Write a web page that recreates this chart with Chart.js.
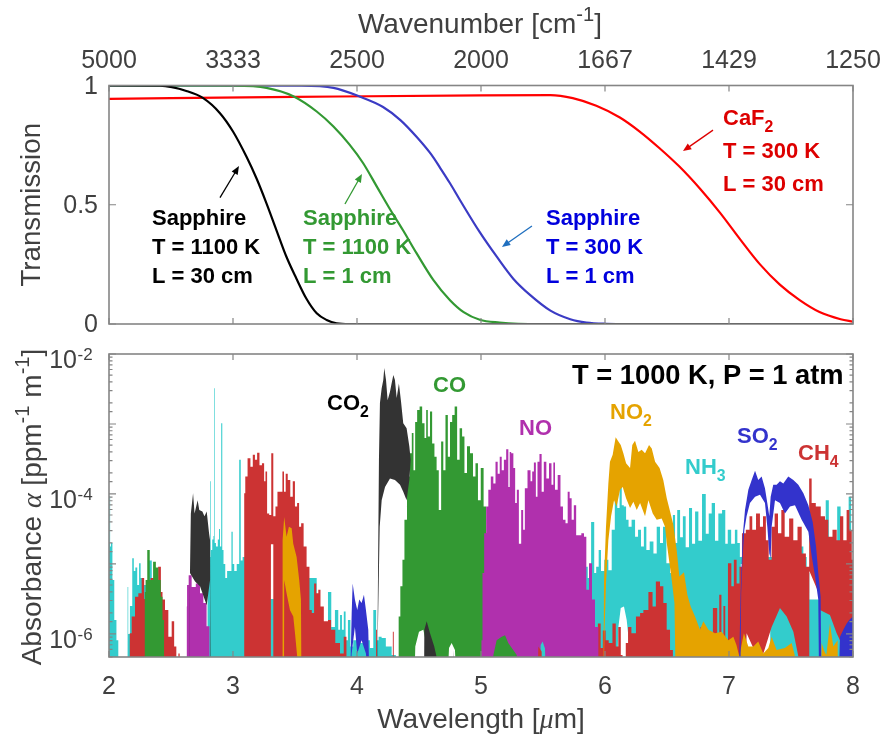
<!DOCTYPE html>
<html>
<head>
<meta charset="utf-8">
<title>Transmission and absorbance spectra</title>
<script src="https://cdn.jsdelivr.net/npm/chart.js@4"></script>
<style>
  html, body { margin: 0; background: #fff; }
  canvas { position: absolute; left: 0; filter: blur(0.4px); }
  #transmission { top: 0; }
  #absorbance { top: 340px; }
</style>
</head>
<body>
<canvas id="transmission" width="883" height="340"></canvas>
<canvas id="absorbance" width="883" height="396"></canvas>
<script>
// tick labels
const wavenumberTicks = ['5000', '3333', '2500', '2000', '1667', '1429', '1250'];

// window transmission curves, wavelength [um] / transmission
const blackWave = [2, 2.41, 2.63, 2.76, 2.895, 3, 3.11, 3.19, 3.27, 3.35, 3.43, 3.51, 3.59, 3.675, 3.755, 3.835, 3.94, 8];
const blackT = [1, 0.999, 0.976, 0.947, 0.884, 0.807, 0.7, 0.61, 0.506, 0.394, 0.283, 0.192, 0.108, 0.045, 0.017, 0.003, 0, 0];
const greenWave = [2, 3, 3.27, 3.49, 3.675, 3.81, 3.94, 4.05, 4.16, 4.27, 4.37, 4.48, 4.615, 4.75, 4.86, 4.99, 5.15, 5.3, 5.5, 8];
const greenT = [1, 0.999, 0.99, 0.954, 0.891, 0.828, 0.752, 0.674, 0.576, 0.478, 0.394, 0.297, 0.185, 0.1, 0.05, 0.018, 0.006, 0.001, 0, 0];
const blueWave = [2, 3.54, 3.81, 4.02, 4.21, 4.35, 4.48, 4.6, 4.67, 4.75, 4.83, 4.99, 5.13, 5.26, 5.395, 5.56, 5.72, 5.85, 6.01, 6.2, 8];
const blueT = [1, 0.999, 0.99, 0.954, 0.91, 0.855, 0.785, 0.71, 0.655, 0.59, 0.52, 0.385, 0.28, 0.19, 0.122, 0.056, 0.02, 0.006, 0.001, 0, 0];
const redWave = [2, 3.5, 5, 5.56, 5.74, 5.93, 6.12, 6.28, 6.44, 6.6, 6.77, 6.93, 7.09, 7.25, 7.41, 7.57, 7.73, 7.9, 8];
const redT = [0.944, 0.952, 0.959, 0.96, 0.947, 0.915, 0.866, 0.807, 0.737, 0.66, 0.565, 0.465, 0.355, 0.25, 0.165, 0.1, 0.05, 0.02, 0.01];

// absorbance, wavelength [um] / log10 of alpha. -7 sits under the axis floor
const nh3Wave = [2, 2.006, 2.012, 2.02, 2.035, 2.05, 2.07, 2.08, 2.085, 2.148, 2.152, 2.158, 2.18, 2.195, 2.205, 2.22, 2.235, 2.25, 2.26, 2.3, 2.33, 2.36, 2.39, 2.42, 2.79,
  2.8, 2.815, 2.82, 2.825, 2.84, 2.845, 2.85, 2.855, 2.87, 2.885, 2.89, 2.9, 2.91, 2.917, 2.93, 2.945, 2.96, 2.98, 2.995, 3, 3.02, 3.04, 3.06, 3.065, 3.09, 3.11, 3.6, 3.75,
  3.782, 3.803, 3.841, 3.857, 3.87, 3.887, 3.9, 3.916, 3.938, 3.956, 3.983, 4.01, 4.037, 4.09, 4.118, 4.145, 4.163, 4.185, 4.212, 4.253, 4.306, 4.32, 5.84,
  5.852, 5.87, 5.906, 5.92, 5.938, 5.96, 5.975, 6.014, 6.04, 6.068, 6.09, 6.108, 6.127, 6.143, 6.16, 6.18, 6.2, 6.229, 6.256, 6.277, 6.304, 6.323, 6.344, 6.377, 6.404, 6.43, 6.457, 6.479, 6.511, 6.538,
  6.557, 6.573, 6.592, 6.619, 6.637, 6.664, 6.691, 6.713, 6.74, 6.766, 6.799, 6.826, 6.847, 6.874, 6.9, 6.928, 6.96, 6.98, 7, 7.035, 7.06, 7.075, 7.1, 7.4, 7.586, 7.613, 7.64, 7.655, 7.72, 7.73, 7.76, 7.8, 7.81, 7.85, 7.895, 7.905, 7.95, 7.98, 7.99, 8];
const nh3Log = [-4.7, -4.03, -4.75, -4.7, -5.23, -5.8, -6.09, -6.33, -7, -7, -5.33, -6, -5.6, -4.92, -5.1, -5.05, -5.3, -4.99, -5.2, -5.3, -4.95, -5.25, -5.6, -7, -7,
  -5.2, -4.9, -3.82, -4.8, -4.65, -4.6, -2.49, -4.7, -4.75, -4.65, -4.5, -4.75, -2.99, -4.8, -5, -5.2, -5.1, -5.1, -4.54, -5, -5.1, -5, -3.51, -4.95, -4.9, -5.5, -5.2, -6.5,
  -5.4, -5.9, -5.66, -5.94, -5.73, -5.94, -5.68, -6.09, -5.8, -6.18, -6.09, -5.94, -6.13, -6.09, -6.2, -5.66, -6.09, -6.04, -6.06, -6.18, -6.3, -7, -7,
  -5.04, -5.2, -4.4, -5.13, -5.04, -4.8, -5.1, -4.94, -5.09, -4.51, -4.09, -4.2, -3.9, -4.16, -4.18, -4.37, -4.47, -4.37, -4.61, -4.51, -4.75, -4.47, -4.8, -4.68, -4.85, -4.47, -4.7, -4.47, -4.99, -5.13,
  -4.3, -4.7, -4.23, -4.62, -4.32, -4.76, -4.2, -4.71, -4.25, -4.67, -4, -4.57, -4.28, -4.13, -4.67, -4.28, -4.23, -4.71, -4.51, -4.71, -4.51, -4.7, -4.9, -4.9, -4.75, -4.9, -5.13, -5.51, -5.51, -5, -5, -4.09, -5, -5, -4.18, -5, -5, -4.04, -5, -5.04];
const nh3LowWave = [2, 6.09, 6.108, 6.127, 6.153, 6.175, 6.197, 6.2, 7.09, 7.095, 7.33, 7.335, 8];
const nh3LowLog = [-7, -7, -5.9, -5.63, -5.61, -5.8, -6.18, -7, -7, -5, -5, -7, -7];

const ch4Wave = [2.1, 2.165, 2.17, 2.196, 2.223, 2.25, 2.277, 2.29, 2.32, 2.35, 2.38, 2.412, 2.425, 2.438, 2.465, 2.492, 2.519, 2.532, 2.554, 2.565, 2.575, 3.087,
  3.094, 3.104, 3.131, 3.15, 3.169, 3.185, 3.204, 3.223, 3.244, 3.258, 3.266, 3.284, 3.3, 3.317, 3.333, 3.352, 3.365, 3.392, 3.405, 3.418, 3.432, 3.451, 3.473, 3.491, 3.508, 3.526, 3.54, 3.559, 3.58, 3.607, 3.626, 3.645, 3.663, 3.68, 3.696, 3.715, 3.75, 3.782, 3.8, 3.85, 3.876, 3.91, 3.92, 4.15,
  4.158, 4.165, 4.285, 4.293, 4.3, 5.93, 5.955, 5.975, 5.99, 6.02, 6.04, 6.08, 6.094, 6.12, 6.135, 6.148, 6.16, 6.175, 6.197, 6.229, 6.27, 6.296, 6.323, 6.377, 6.39, 6.43, 6.457, 6.484, 6.511, 6.538, 6.557, 6.76,
  6.78, 6.79, 6.83, 6.84, 6.9, 6.91, 6.933, 6.945, 6.965, 6.975, 7.008, 7.03, 7.048, 7.075, 7.094, 7.115, 7.156, 7.175, 7.2, 7.236, 7.263, 7.285, 7.31, 7.33, 7.357, 7.379, 7.411, 7.433, 7.465, 7.505, 7.532, 7.573, 7.6, 7.64, 7.653, 7.68, 7.72, 7.76, 7.788, 7.814, 7.855, 7.882, 7.908, 7.935, 7.962, 7.98, 8];
const ch4Log = [-7, -7, -5.99, -5.75, -5.47, -5.42, -5.2, -5.5, -5.3, -5.2, -5.3, -5.04, -5.4, -5.51, -5.66, -6.04, -5.82, -6.18, -6.33, -6.28, -7, -7,
  -3.99, -3.75, -3.49, -3.61, -3.44, -3.51, -3.41, -3.59, -3.56, -3.82, -3.68, -4.28, -4.3, -3.42, -4.32, -4.18, -3.97, -3.97, -3.68, -3.97, -3.71, -3.8, -4.04, -3.82, -4.18, -4.13, -4.47, -4.42, -4.75, -5.04, -5.66, -5.7, -5.28, -5.42, -5.37, -5.61, -5.82, -5.8, -5.94, -6.13, -6.28, -6.04, -7, -7,
  -5.94, -7, -7, -5.97, -7, -6.3, -5.85, -6.2, -5.95, -6.09, -6.13, -5.85, -6.18, -5.9, -6.3, -7, -7, -6.13, -5.9, -5.99, -5.75, -5.7, -5.66, -5.4, -5.61, -5.25, -5.32, -5.56, -5.94, -6.23, -7, -7,
  -5.9, -6.5, -5.95, -6.5, -5.63, -6.3, -5.44, -6.2, -5.6, -6.1, -4.99, -5.32, -4.94, -5.28, -5.04, -4.56, -4.51, -4.32, -4.51, -4.28, -4.47, -4.32, -4.66, -4.94, -4.47, -4.28, -4.56, -4.23, -4.61, -4.35, -4.66, -4.47, -4.85, -5.04, -3.78, -4.13, -4.18, -4.32, -4.37, -4.61, -4.51, -4.66, -4.32, -4.66, -4.23, -4.51, -4.94];
const ch4LowWave = [2.1, 3.305, 3.306, 3.325, 3.326, 7.13, 7.142, 7.196, 7.277, 7.344, 7.411, 7.465, 7.519, 7.559, 7.56, 7.647, 7.648, 7.72, 7.734, 7.814, 7.868, 7.895, 8];
const ch4LowLog = [-7, -7, -4.72, -4.72, -7, -7, -5.99, -6.2, -6.28, -5.9, -5.63, -5.75, -5.97, -6.32, -7, -7, -5.1, -5.4, -5.66, -5.73, -5.99, -6.09, -6.2];

const coWave = [2.285, 2.29, 2.3, 2.317, 2.34, 2.371, 2.385, 2.41, 2.425, 2.438, 2.45, 2.455, 4.333,
  4.339, 4.36, 4.373, 4.392, 4.414, 4.435, 4.449, 4.462, 4.476, 4.494, 4.516, 4.535, 4.554, 4.562, 4.58, 4.597, 4.615, 4.634, 4.65, 4.669, 4.688, 4.704, 4.723, 4.742, 4.758, 4.777, 4.798, 4.817, 4.838, 4.857, 4.876, 4.898, 4.925, 4.946, 4.965, 4.986, 5.01, 5.032, 5.05, 5.055];
const coLog = [-7, -5.4, -5.23, -4.8, -5.23, -4.97, -5.05, -5.23, -5.47, -5.8, -6.33, -7, -7,
  -5.75, -5.32, -4.94, -4.37, -3.75, -3.42, -3.13, -3.66, -2.97, -2.8, -2.75, -2.99, -3.2, -2.8, -3.18, -2.82, -3.28, -3.47, -3.66, -4.23, -3.25, -3.66, -2.87, -3.47, -2.97, -2.87, -2.75, -3.51, -3.06, -3.18, -3.7, -3.32, -3.42, -3.75, -3.56, -4.09, -3.63, -4.18, -4.56, -7];
const coLowWave = [2.28, 4.46, 4.47, 4.5, 4.535, 4.575, 4.6, 4.723, 4.742, 4.763, 4.79, 4.81, 5.06];
const coLowLog = [-7, -7, -6.18, -5.97, -5.94, -6.28, -7, -7, -6.2, -6.13, -6.23, -7, -7];

const noWave = [2.625, 2.627, 2.632, 2.653, 2.68, 2.72, 2.748, 2.774, 2.8, 2.82, 2.825, 5.002,
  5.005, 5.019, 5.032, 5.051, 5.067, 5.091, 5.108, 5.126, 5.143, 5.159, 5.175, 5.194, 5.212, 5.229, 5.234, 5.253, 5.269, 5.282, 5.296, 5.315, 5.333, 5.347, 5.36, 5.39, 5.409, 5.417, 5.436, 5.449, 5.462, 5.481, 5.497, 5.516, 5.538, 5.559, 5.578, 5.589, 5.605, 5.632, 5.65, 5.672, 5.691, 5.707, 5.723, 5.739, 5.758, 5.777, 5.798, 5.82, 5.841, 5.858, 5.884, 5.906, 5.933, 5.96, 5.965];
const noLog = [-7, -5.61, -5.3, -5.16, -5.33, -5.28, -5.42, -5.56, -5.89, -6.33, -7, -7,
  -6.09, -5.13, -4.56, -4.18, -3.94, -3.75, -3.85, -3.54, -3.71, -3.47, -3.66, -3.51, -3.36, -3.9, -3.4, -3.42, -3.63, -4.13, -3.94, -4.71, -4.23, -4.51, -3.92, -3.66, -3.82, -3.68, -3.55, -4.04, -3.54, -3.43, -3.97, -3.54, -3.78, -3.56, -3.87, -3.55, -3.94, -3.73, -4.18, -4.37, -4.42, -3.97, -4.06, -4.37, -4.16, -4.59, -4.59, -4.56, -4.61, -5.37, -4.99, -5.51, -5.9, -6.33, -7];

// small bands that show in front of the NO band
const coPatchWave = [5.095, 5.1, 5.126, 5.167, 5.194, 5.22, 5.26, 5.288, 5.292];
const coPatchLog = [-7, -6.3, -6.09, -6.04, -6.02, -6.13, -6.23, -6.3, -7];
const nh3PatchWave = [5.47, 5.481, 5.497, 5.516, 5.53];
const nh3PatchLog = [-7, -6.16, -6.11, -6.21, -7];
const ch4PatchWave = [5.455, 5.462, 5.489, 5.495];
const ch4PatchLog = [-7, -6.18, -6.25, -7];

const co2Wave = [2.65, 2.653, 2.66, 2.678, 2.69, 2.715, 2.728, 2.753, 2.77, 2.788, 2.807, 2.815, 2.82, 4.16,
  4.164, 4.177, 4.185, 4.199, 4.212, 4.22, 4.234, 4.247, 4.266, 4.279, 4.293, 4.306, 4.32, 4.338, 4.355, 4.373, 4.4, 4.422, 4.433, 4.437, 4.54,
  4.543, 4.562, 4.589, 4.623, 4.642, 4.645, 4.77, 4.777, 4.785];
const co2Log = [-7, -5.13, -4.28, -3.99, -4.28, -4.09, -4.23, -4.25, -4.32, -4.25, -4.56, -4.66, -7, -7,
  -6.33, -3.51, -2.7, -2.49, -2.37, -2.2, -2.37, -2.66, -2.54, -2.42, -2.3, -2.37, -2.63, -2.42, -2.68, -2.99, -3.06, -3.32, -3.51, -7, -7,
  -5.94, -5.82, -5.99, -6.18, -6.33, -7, -7, -6.23, -7];
const co2LowWave = [2.64, 2.653, 2.694, 2.734, 2.788, 2.815, 2.82, 4.16, 4.164, 4.168, 4.183, 4.199, 4.226, 4.266, 4.306, 4.347, 4.373, 4.4, 4.422, 4.433, 4.437, 4.79];
const co2LowLog = [-7, -5.13, -5.25, -5.32, -5.59, -5.23, -7, -7, -7, -6, -4.47, -4.09, -3.9, -3.78, -3.8, -3.87, -3.97, -4.09, -3.8, -3.51, -7, -7];

const no2Wave = [3.39, 3.397, 3.4, 3.413, 3.432, 3.451, 3.473, 3.486, 3.513, 3.534, 3.548, 3.553, 5.98,
  5.987, 5.992, 6.008, 6.027, 6.04, 6.062, 6.086, 6.108, 6.127, 6.148, 6.17, 6.202, 6.22, 6.242, 6.269, 6.296, 6.323, 6.355, 6.377, 6.404, 6.44, 6.47, 6.498, 6.525, 6.551, 6.578, 6.6, 6.637, 6.664, 6.691, 6.726, 6.766, 6.793, 6.834, 6.887, 6.94, 6.995, 7.035, 7.06, 7.083, 7.12, 7.156, 7.196, 7.236, 7.277, 7.317, 7.344, 7.384, 7.45, 7.505, 7.53, 7.535, 7.74,
  7.747, 7.77, 7.785, 7.814, 7.841, 7.876, 7.88];
const no2Log = [-7, -7, -4.66, -4.33, -4.61, -4.47, -4.49, -4.71, -4.9, -5.23, -5.51, -7, -7,
  -7, -5.23, -4.47, -3.85, -3.54, -3.44, -3.19, -3.25, -3.3, -3.42, -3.56, -3.63, -3.3, -3.24, -3.4, -3.37, -3.42, -3.3, -3.35, -3.54, -3.63, -3.8, -4.06, -4.25, -4.44, -4.8, -5.18, -5.12, -5.44, -5.61, -5.75, -5.94, -5.82, -5.94, -5.99, -5.97, -6.09, -6.04, -6.16, -6.32, -5.99, -6.18, -6.18, -6.11, -6.28, -6.2, -6.04, -6.23, -6.2, -6.13, -6.3, -7, -7,
  -6.13, -6.25, -6.3, -5.85, -6.18, -6.09, -7];
const no2LowWave = [3.39, 3.411, 3.413, 3.432, 3.459, 3.486, 3.5, 3.518, 3.52, 5.987, 5.995, 6.008, 6.027, 6.049, 6.073, 6.094, 6.121, 6.143, 6.17, 6.202, 6.229, 6.256, 6.283, 6.323, 6.35, 6.385, 6.417, 6.457, 6.484, 6.498, 6.52, 6.538, 6.56, 6.573, 7.9];
const no2LowLog = [-7, -7, -5.23, -5.42, -5.66, -5.75, -5.99, -6.33, -7, -7, -6.04, -5.28, -4.66, -4.32, -4.09, -4.18, -3.94, -3.9, -4.06, -4.2, -4.11, -4.23, -4.13, -4.32, -4.09, -4.28, -4.37, -4.35, -4.47, -4.7, -4.99, -5.23, -5.56, -7, -7];

const so2Wave = [3.94, 3.943, 3.957, 3.965, 3.983, 4.002, 4.018, 4.037, 4.056, 4.072, 4.091, 4.104, 7.075,
  7.08, 7.094, 7.11, 7.129, 7.156, 7.183, 7.21, 7.236, 7.263, 7.29, 7.309, 7.325, 7.336, 7.357, 7.384, 7.411, 7.438, 7.478, 7.519, 7.559, 7.6, 7.64, 7.675, 7.702, 7.72, 7.739, 7.747, 7.88,
  7.882, 7.895, 7.922, 7.949, 7.97, 8];
const so2Log = [-7, -7, -5.71, -5.28, -5.51, -5.66, -5.51, -5.56, -5.44, -5.66, -5.94, -7, -7,
  -7, -5.42, -4.61, -4.23, -3.94, -3.8, -3.67, -3.8, -3.75, -3.92, -4.13, -4.32, -4.04, -3.87, -3.87, -3.82, -3.85, -3.75, -3.8, -3.87, -3.99, -4.16, -4.4, -4.75, -5.13, -5.47, -7, -7,
  -7, -6.04, -5.94, -5.85, -5.8, -5.75];
const so2LowWave = [3.94, 3.957, 3.983, 4.002, 4.037, 4.072, 4.104, 7.09, 7.098, 7.11, 7.124, 7.142, 7.169, 7.21, 7.25, 7.29, 7.309, 7.325, 7.336, 7.344, 7.371, 7.411, 7.451, 7.492, 7.532, 7.586, 7.64, 7.667, 7.694, 7.72, 7.728, 8];
const so2LowLog = [-7, -6.28, -5.9, -6.28, -6.09, -6.28, -7, -7, -5.42, -4.89, -4.51, -4.32, -4.13, -4.04, -4.01, -4.13, -4.47, -4.85, -4.92, -4.47, -4.09, -4.13, -4.28, -4.18, -4.16, -4.37, -4.54, -4.89, -5.18, -5.51, -7, -7];

const AXIS_GREY = '#404040';
const BOX_GREY = '#858585';
const SANS = '"Liberation Sans", Arial, sans-serif';
const SERIF = '"Liberation Serif", serif';

const curve = (wave, vals) => wave.map((w, i) => ({ x: w, y: vals[i] }));
const band = (wave, logs) => wave.map((w, i) => ({ x: w, y: Math.pow(10, logs[i]) }));

// text with raised / lowered / italic pieces
function drawRich(ctx, parts, x, y, size, color, opts) {
  opts = opts || {};
  const weight = opts.bold ? 'bold ' : '';
  const fontFor = p => {
    const s = p.sup || p.sub ? size * 0.72 : size;
    return (p.italic ? 'italic ' : weight) + s + 'px ' + (p.italic ? SERIF : SANS);
  };
  ctx.save();
  ctx.fillStyle = color;
  ctx.textBaseline = 'alphabetic';
  ctx.textAlign = 'left';
  let total = 0;
  parts.forEach(p => { ctx.font = fontFor(p); total += ctx.measureText(p.t).width; });
  ctx.translate(x, y);
  if (opts.rotate) ctx.rotate(-Math.PI / 2);
  let cx = opts.center ? -total / 2 : 0;
  parts.forEach(p => {
    ctx.font = fontFor(p);
    const dy = p.sup ? -size * 0.42 : p.sub ? size * 0.3 : 0;
    ctx.fillText(p.t, cx, dy);
    cx += ctx.measureText(p.t).width;
  });
  ctx.restore();
}

function drawBox(chart) {
  const { ctx, chartArea: a } = chart;
  ctx.save();
  ctx.strokeStyle = BOX_GREY;
  ctx.lineWidth = 1.6;
  ctx.strokeRect(a.left, a.top, a.right - a.left, a.bottom - a.top);
  ctx.restore();
}

// inward ticks on all four sides
function drawTicks(chart, xScale, yScale, isMajor) {
  const { ctx, chartArea: a } = chart;
  ctx.save();
  ctx.strokeStyle = BOX_GREY;
  ctx.lineWidth = 1.2;
  ctx.beginPath();
  xScale.ticks.forEach(t => {
    const px = xScale.getPixelForValue(t.value);
    ctx.moveTo(px, a.top); ctx.lineTo(px, a.top + 6);
    ctx.moveTo(px, a.bottom); ctx.lineTo(px, a.bottom - 6);
  });
  yScale.ticks.forEach(t => {
    const py = yScale.getPixelForValue(t.value);
    const len = isMajor(t.value) ? 7 : 3.5;
    ctx.moveTo(a.left, py); ctx.lineTo(a.left + len, py);
    ctx.moveTo(a.right, py); ctx.lineTo(a.right - len, py);
  });
  ctx.stroke();
  ctx.restore();
}

// the axis boxes are fixed, so drop what chart.js reserves for tick label overhang
function fixBox(s, prop, size) {
  s[prop] = size;
  s.paddingLeft = s.paddingRight = s.paddingTop = s.paddingBottom = 0;
}

// ---- top panel ----
const windowLabels = [
  { color: '#000000', x: 152, y: 225, lines: [[{ t: 'Sapphire' }], [{ t: 'T = 1100 K' }], [{ t: 'L = 30 cm' }]], gap: 29 },
  { color: '#339933', x: 303, y: 225, lines: [[{ t: 'Sapphire' }], [{ t: 'T = 1100 K' }], [{ t: 'L = 1 cm' }]], gap: 29 },
  { color: '#0000DD', x: 546, y: 225, lines: [[{ t: 'Sapphire' }], [{ t: 'T = 300 K' }], [{ t: 'L = 1 cm' }]], gap: 29 },
  { color: '#DD0000', x: 723, y: 125, lines: [[{ t: 'CaF' }, { t: '2', sub: true }], [{ t: 'T = 300 K' }], [{ t: 'L = 30 cm' }]], gap: 33 }
];
const windowArrows = [
  { color: '#000000', from: [2.895, 0.53], to: [3.048, 0.662] },
  { color: '#339933', from: [3.903, 0.503], to: [4.04, 0.629] },
  { color: '#1F6FBF', from: [5.411, 0.411], to: [5.169, 0.323] },
  { color: '#DD0000', from: [6.871, 0.813], to: [6.629, 0.725] }
];

const topPanel = {
  id: 'topPanel',
  afterDatasetsDraw(chart) {
    const { ctx, scales } = chart;
    drawBox(chart);
    drawTicks(chart, scales.x, scales.y, () => true);
    windowArrows.forEach(a => {
      const x0 = scales.x.getPixelForValue(a.from[0]), y0 = scales.y.getPixelForValue(a.from[1]);
      const x1 = scales.x.getPixelForValue(a.to[0]), y1 = scales.y.getPixelForValue(a.to[1]);
      const ang = Math.atan2(y1 - y0, x1 - x0);
      ctx.save();
      ctx.strokeStyle = ctx.fillStyle = a.color;
      ctx.lineWidth = 1.3;
      ctx.beginPath(); ctx.moveTo(x0, y0); ctx.lineTo(x1 - 6 * Math.cos(ang), y1 - 6 * Math.sin(ang)); ctx.stroke();
      ctx.beginPath();
      ctx.moveTo(x1, y1);
      ctx.lineTo(x1 - 9 * Math.cos(ang - 0.4), y1 - 9 * Math.sin(ang - 0.4));
      ctx.lineTo(x1 - 9 * Math.cos(ang + 0.4), y1 - 9 * Math.sin(ang + 0.4));
      ctx.closePath(); ctx.fill();
      ctx.restore();
    });
    windowLabels.forEach(l => {
      l.lines.forEach((parts, i) => drawRich(ctx, parts, l.x, l.y + i * l.gap, 22, l.color, { bold: true }));
    });
    drawRich(ctx, [{ t: 'Wavenumber [cm' }, { t: '-1', sup: true }, { t: ']' }], 480, 33, 28, AXIS_GREY, { center: true });
  }
};

new Chart(document.getElementById('transmission'), {
  type: 'line',
  data: {
    datasets: [
      { data: curve(blackWave, blackT), borderColor: '#000000' },
      { data: curve(greenWave, greenT), borderColor: '#339933' },
      { data: curve(blueWave, blueT), borderColor: '#3B3BC4' },
      { data: curve(redWave, redT), borderColor: '#FF0000' }
    ]
  },
  options: {
    responsive: false,
    animation: false,
    layout: { padding: { right: 30, bottom: 16 } },
    plugins: { legend: { display: false }, tooltip: { enabled: false } },
    elements: { point: { radius: 0 }, line: { borderWidth: 2.2, cubicInterpolationMode: 'monotone' } },
    scales: {
      x: {
        type: 'linear', position: 'top', min: 2, max: 8,
        grid: { display: false, drawTicks: false }, border: { display: false },
        afterFit: s => fixBox(s, 'height', 85.5),
        ticks: {
          stepSize: 1, maxRotation: 0, padding: 9, color: AXIS_GREY, font: { family: SANS, size: 25 },
          callback: v => wavenumberTicks[v - 2]
        }
      },
      y: {
        min: 0, max: 1,
        grid: { display: false, drawTicks: false }, border: { display: false },
        afterFit: s => fixBox(s, 'width', 109),
        title: { display: true, text: 'Transmission', color: AXIS_GREY, font: { family: SANS, size: 27.7 }, padding: { top: 16, bottom: 0 } },
        ticks: {
          stepSize: 0.5, padding: 11, labelOffset: 1.5, color: AXIS_GREY, font: { family: SANS, size: 25 },
          callback: v => String(v)
        }
      }
    }
  },
  plugins: [topPanel]
});

// ---- bottom panel ----
// bottom to top; later layers paint over earlier ones
// bars: draw as a histogram of lines, the others as a plain envelope
const layers = [
  { color: '#33CCCC', bars: true, wave: nh3Wave, logs: nh3Log, lowWave: nh3LowWave, lowLogs: nh3LowLog },
  { color: '#CC3333', bars: true, wave: ch4Wave, logs: ch4Log, lowWave: ch4LowWave, lowLogs: ch4LowLog },
  { color: '#339933', bars: true, wave: coWave, logs: coLog, lowWave: coLowWave, lowLogs: coLowLog },
  { color: '#B030AD', bars: true, wave: noWave, logs: noLog },
  { color: '#339933', wave: coPatchWave, logs: coPatchLog },
  { color: '#33CCCC', wave: nh3PatchWave, logs: nh3PatchLog },
  { color: '#CC3333', wave: ch4PatchWave, logs: ch4PatchLog },
  { color: '#333333', wave: co2Wave, logs: co2Log, lowWave: co2LowWave, lowLogs: co2LowLog },
  { color: '#E5A300', wave: no2Wave, logs: no2Log, lowWave: no2LowWave, lowLogs: no2LowLog },
  { color: '#3333CC', wave: so2Wave, logs: so2Log, lowWave: so2LowWave, lowLogs: so2LowLog }
];

// chart.js paints dataset 0 last, so push top layer first
const bandSets = [];
layers.slice().reverse().forEach(l => {
  bandSets.push({
    data: band(l.wave, l.logs),
    stepped: l.bars ? 'middle' : false,
    borderWidth: 0,
    borderColor: 'transparent',
    backgroundColor: l.color,
    fill: l.lowWave ? '+1' : 'start'
  });
  if (l.lowWave) {
    bandSets.push({ data: band(l.lowWave, l.lowLogs), borderWidth: 0, borderColor: 'transparent', backgroundColor: 'transparent', fill: false });
  }
});

const gasLabels = [
  { color: '#000000', x: 327, y: 70, parts: [{ t: 'CO' }, { t: '2', sub: true }] },
  { color: '#339933', x: 433, y: 52, parts: [{ t: 'CO' }] },
  { color: '#B030AD', x: 519, y: 95, parts: [{ t: 'NO' }] },
  { color: '#E5A300', x: 610, y: 79, parts: [{ t: 'NO' }, { t: '2', sub: true }] },
  { color: '#33CCCC', x: 685, y: 134, parts: [{ t: 'NH' }, { t: '3', sub: true }] },
  { color: '#3333CC', x: 737, y: 103, parts: [{ t: 'SO' }, { t: '2', sub: true }] },
  { color: '#CC3333', x: 798, y: 120, parts: [{ t: 'CH' }, { t: '4', sub: true }] }
];

const isDecade = v => Math.abs(Math.log10(v) - Math.round(Math.log10(v))) < 1e-6;
const isLabelled = v => isDecade(v) && Math.round(Math.log10(v)) % 2 === 0;

const bottomPanel = {
  id: 'bottomPanel',
  afterDatasetsDraw(chart) {
    const { ctx, scales } = chart;
    drawBox(chart);
    drawTicks(chart, scales.x, scales.y, isDecade);
    gasLabels.forEach(l => drawRich(ctx, l.parts, l.x, l.y, 22, l.color, { bold: true }));
    drawRich(ctx, [{ t: 'T = 1000 K, P = 1 atm' }], 572, 44, 27.3, '#000000', { bold: true });
    // exponents next to the "10" tick labels
    scales.y.ticks.forEach(t => {
      if (!isLabelled(t.value)) return;
      const py = scales.y.getPixelForValue(t.value);
      drawRich(ctx, [{ t: String(Math.round(Math.log10(t.value))) }], 77.5, py + 6, 17, AXIS_GREY);
    });
    drawRich(ctx, [{ t: 'Absorbance ' }, { t: '\u03B1', italic: true }, { t: ' [ppm' }, { t: '-1', sup: true }, { t: ' m' }, { t: '-1', sup: true }, { t: ']' }], 41, 167, 28, AXIS_GREY, { rotate: true, center: true });
    drawRich(ctx, [{ t: 'Wavelength [' }, { t: '\u03BC', italic: true }, { t: 'm]' }], 481, 388, 28, AXIS_GREY, { center: true });
  }
};

new Chart(document.getElementById('absorbance'), {
  type: 'line',
  data: { datasets: bandSets },
  options: {
    responsive: false,
    animation: false,
    layout: { padding: { top: 14, right: 30 } },
    plugins: { legend: { display: false }, tooltip: { enabled: false }, filler: { propagate: false } },
    elements: { point: { radius: 0 }, line: { tension: 0 } },
    scales: {
      x: {
        type: 'linear', min: 2, max: 8,
        grid: { display: false, drawTicks: false }, border: { display: false },
        afterFit: s => fixBox(s, 'height', 79),
        ticks: { stepSize: 1, maxRotation: 0, padding: 15, color: AXIS_GREY, font: { family: SANS, size: 25 } }
      },
      y: {
        type: 'logarithmic', min: Math.pow(10, -6.33), max: 0.01,
        grid: { display: false, drawTicks: false }, border: { display: false },
        afterFit: s => fixBox(s, 'width', 109),
        ticks: {
          autoSkip: false, padding: 32, labelOffset: 7, color: AXIS_GREY, font: { family: SANS, size: 25 },
          callback: v => (isLabelled(v) ? '10' : '')
        }
      }
    }
  },
  plugins: [bottomPanel]
});
</script>
</body>
</html>
